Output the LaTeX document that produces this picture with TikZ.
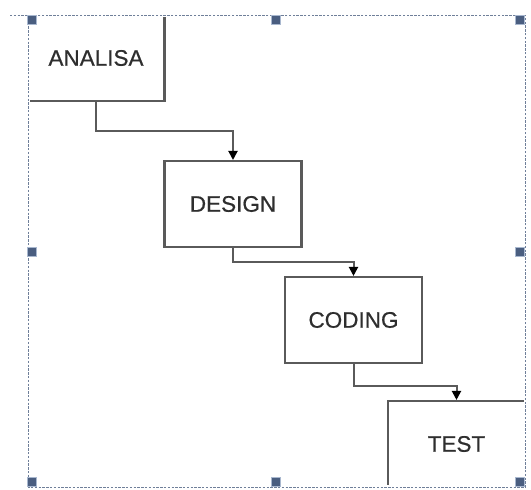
\documentclass[tikz,border=0pt]{standalone}
\usepackage{fontspec}
\setmainfont{Liberation Sans}
\usetikzlibrary{arrows.meta}
\definecolor{boxline}{HTML}{5A5A5A}
\definecolor{txt}{HTML}{2E2E2E}
\definecolor{frameline}{HTML}{6F7F99}
\definecolor{handlefill}{HTML}{4A5E80}
\definecolor{handleedge}{HTML}{A9B8CF}
\tikzset{
  stage/.style={draw=boxline, line width=2.1pt, fill=white, minimum width=137pt,
    minimum height=86pt, inner sep=0pt, text=txt,
    font=\fontsize{22.5}{26}\selectfont\addfontfeature{FakeBold=0.6}},
  conn/.style={draw=boxline, line width=2pt, -{Triangle[length=9pt,width=9pt,color=black]}},
  framewhite/.style={draw=white, line width=3.4pt},
  framedash/.style={draw=frameline, line width=1pt, dash pattern=on 2.4pt off 1.4pt},
  handle/.style={draw=handleedge, fill=handlefill, line width=0.6pt, minimum size=9pt, inner sep=0pt}
}
\begin{document}
\begin{tikzpicture}[x=1pt,y=-1pt]
\useasboundingbox (0,0) rectangle (531,490);
\fill[white] (0,0) rectangle (531,490);
% stages
\node[stage] (analisa) at (96,58) {ANALISA};
\node[stage] (design) at (233,204) {DESIGN};
\node[stage] (coding) at (353.5,320) {CODING};
\node[stage] (test) at (456.5,444) {TEST};
% bend levels
\coordinate (l1) at (0,131);
\coordinate (l2) at (0,262);
\coordinate (l3) at (0,386);
\draw[conn] (analisa.south) -- (analisa.south |- l1) -| (design.north);
\draw[conn] (design.south) -- (design.south |- l2) -| (coding.north);
\draw[conn] (coding.south) -- (coding.south |- l3) -| (test.north);
% selection frame
\coordinate (f1) at (28,15);
\coordinate (f2) at (525.5,487);
\draw[framewhite] (f1) rectangle (f2);
\draw[framedash] (f1) rectangle (f2);
\draw[framedash] (10,15) -- (f1);
% handles
\node[handle] (h1) at (32,20) {};
\node[handle] (h2) at (276,20) {};
\node[handle] (h3) at (520,20) {};
\node[handle] (h4) at (32,252) {};
\node[handle] (h5) at (520,252) {};
\node[handle] (h6) at (32,482) {};
\node[handle] (h7) at (276,482) {};
\node[handle] (h8) at (520,482) {};
\end{tikzpicture}
\end{document}
